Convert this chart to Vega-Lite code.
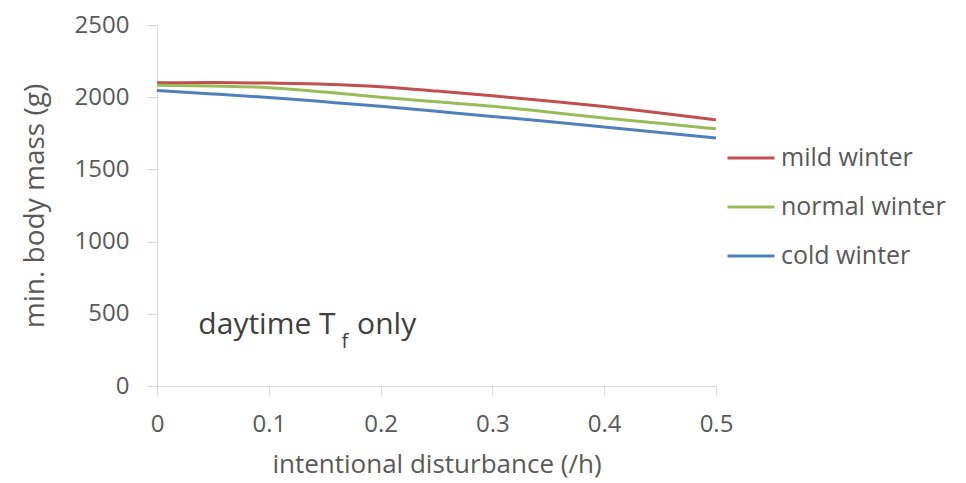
{
  "$schema": "https://vega.github.io/schema/vega-lite/v6.json",
  "width": 559,
  "height": 361,
  "autosize": "none",
  "padding": {"left": 157, "top": 25, "right": 250, "bottom": 97},
  "background": "white",
  "config": {
    "font": "Open Sans",
    "view": {"stroke": null},
    "axis": {
      "grid": false,
      "domainColor": "#d9d9d9",
      "tickColor": "#d9d9d9",
      "labelColor": "#595959",
      "titleColor": "#595959",
      "labelFont": "Open Sans",
      "titleFont": "Open Sans",
      "labelFontSize": 24,
      "titleFontSize": 26,
      "titleFontWeight": "normal",
      "labelFlush": false
    }
  },
  "datasets": {
    "curves": [
      {"x": 0, "y": 2100, "winter": "mild winter"},
      {"x": 0.05, "y": 2101, "winter": "mild winter"},
      {"x": 0.1, "y": 2098, "winter": "mild winter"},
      {"x": 0.15, "y": 2090, "winter": "mild winter"},
      {"x": 0.2, "y": 2073, "winter": "mild winter"},
      {"x": 0.25, "y": 2043, "winter": "mild winter"},
      {"x": 0.3, "y": 2010, "winter": "mild winter"},
      {"x": 0.35, "y": 1974, "winter": "mild winter"},
      {"x": 0.4, "y": 1935, "winter": "mild winter"},
      {"x": 0.45, "y": 1890, "winter": "mild winter"},
      {"x": 0.5, "y": 1843, "winter": "mild winter"},
      {"x": 0, "y": 2082, "winter": "normal winter"},
      {"x": 0.05, "y": 2077, "winter": "normal winter"},
      {"x": 0.1, "y": 2066, "winter": "normal winter"},
      {"x": 0.15, "y": 2036, "winter": "normal winter"},
      {"x": 0.2, "y": 2000, "winter": "normal winter"},
      {"x": 0.25, "y": 1968, "winter": "normal winter"},
      {"x": 0.3, "y": 1937, "winter": "normal winter"},
      {"x": 0.35, "y": 1897, "winter": "normal winter"},
      {"x": 0.4, "y": 1856, "winter": "normal winter"},
      {"x": 0.45, "y": 1819, "winter": "normal winter"},
      {"x": 0.5, "y": 1781, "winter": "normal winter"},
      {"x": 0, "y": 2046, "winter": "cold winter"},
      {"x": 0.05, "y": 2023, "winter": "cold winter"},
      {"x": 0.1, "y": 1998, "winter": "cold winter"},
      {"x": 0.15, "y": 1968, "winter": "cold winter"},
      {"x": 0.2, "y": 1937, "winter": "cold winter"},
      {"x": 0.25, "y": 1902, "winter": "cold winter"},
      {"x": 0.3, "y": 1867, "winter": "cold winter"},
      {"x": 0.35, "y": 1831, "winter": "cold winter"},
      {"x": 0.4, "y": 1794, "winter": "cold winter"},
      {"x": 0.45, "y": 1756, "winter": "cold winter"},
      {"x": 0.5, "y": 1717, "winter": "cold winter"}
    ],
    "mainText": [
      {"x": 0.037, "y": 357, "label": "daytime T"}
    ],
    "subText": [
      {"x": 0.165, "y": 266, "label": "f"}
    ],
    "tailText": [
      {"x": 0.179, "y": 357, "label": "only"}
    ]
  },
  "layer": [
    {
      "data": {"name": "curves"},
      "mark": {"type": "line", "strokeWidth": 3, "interpolate": "monotone"},
      "encoding": {
        "x": {
          "field": "x", "type": "quantitative",
          "scale": {"domain": [0, 0.5], "nice": false, "zero": false},
          "axis": {
            "values": [0, 0.1, 0.2, 0.3, 0.4, 0.5],
            "format": "~g",
            "title": "intentional disturbance (/h)",
            "tickSize": 9,
            "labelPadding": 17,
            "titlePadding": 15
          }
        },
        "y": {
          "field": "y", "type": "quantitative",
          "scale": {"domain": [0, 2500], "nice": false},
          "axis": {
            "values": [0, 500, 1000, 1500, 2000, 2500],
            "format": "d",
            "title": "min. body mass (g)",
            "titleFontSize": 28,
            "tickSize": 10,
            "labelPadding": 18,
            "titlePadding": 25
          }
        },
        "color": {
          "field": "winter", "type": "nominal",
          "scale": {
            "domain": ["mild winter", "normal winter", "cold winter"],
            "range": ["#c0504d", "#9bbb59", "#4f81bd"]
          },
          "legend": {
            "title": null,
            "orient": "none",
            "legendX": 569,
            "legendY": 121,
            "symbolType": "stroke",
            "symbolSize": 2209,
            "symbolStrokeWidth": 3,
            "labelFontSize": 25,
            "labelLimit": 400,
            "labelColor": "#595959",
            "labelFont": "Open Sans",
            "labelOffset": 5,
            "clipHeight": 24,
            "rowPadding": 24
          }
        }
      }
    },
    {
      "data": {"name": "mainText"},
      "mark": {"type": "text", "align": "left", "baseline": "alphabetic", "fontSize": 30, "color": "#404040", "font": "Open Sans"},
      "encoding": {
        "x": {"field": "x", "type": "quantitative"},
        "y": {"field": "y", "type": "quantitative"},
        "text": {"field": "label"}
      }
    },
    {
      "data": {"name": "subText"},
      "mark": {"type": "text", "align": "left", "baseline": "alphabetic", "fontSize": 20, "color": "#404040", "font": "Open Sans"},
      "encoding": {
        "x": {"field": "x", "type": "quantitative"},
        "y": {"field": "y", "type": "quantitative"},
        "text": {"field": "label"}
      }
    },
    {
      "data": {"name": "tailText"},
      "mark": {"type": "text", "align": "left", "baseline": "alphabetic", "fontSize": 30, "color": "#404040", "font": "Open Sans"},
      "encoding": {
        "x": {"field": "x", "type": "quantitative"},
        "y": {"field": "y", "type": "quantitative"},
        "text": {"field": "label"}
      }
    }
  ]
}
